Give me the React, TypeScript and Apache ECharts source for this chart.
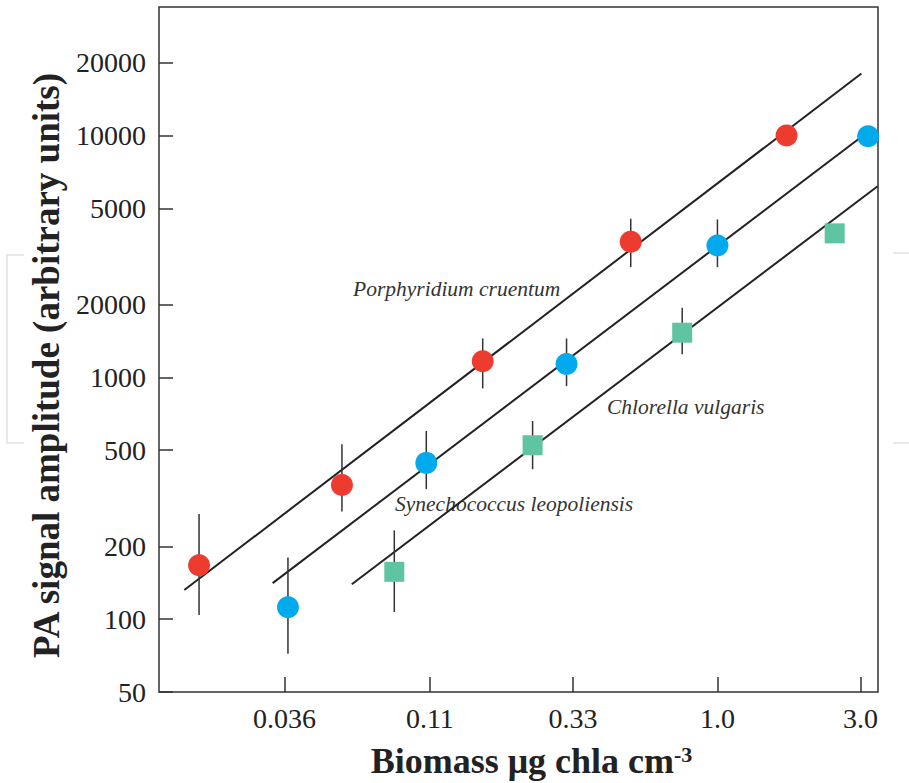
import React, { useEffect, useRef } from "react";
import * as echarts from "echarts";

// ---- Axis ticks (data units) ----
const xTickValues = [0.036, 0.11, 0.33, 1.0, 3.0];
const xTickLabels = ["0.036", "0.11", "0.33", "1.0", "3.0"];
const yTickValues = [50, 100, 200, 500, 1000, 2000, 5000, 10000, 20000];
const yTickLabels = ["50", "100", "200", "500", "1000", "20000", "5000", "10000", "20000"];

const xMin = 0.01375;
const xMax = 3.43;
const yMin = 50;
const yMax = 34000;

// ---- Porphyridium cruentum (red circles) ----
const porphyridiumX = [0.0187, 0.056, 0.165, 0.514, 1.7];
const porphyridiumY = [167, 359, 1165, 3640, 10000];
const porphyridiumLow = [104, 279, 900, 2856, null];
const porphyridiumHigh = [272, 529, 1449, 4528, null];
const porphyridiumFitX = [0.0167, 3.02];
const porphyridiumFitY = [132, 18040];

// ---- Chlorella vulgaris (blue circles) ----
const chlorellaX = [0.037, 0.107, 0.314, 1.0, 3.18];
const chlorellaY = [112, 443, 1135, 3510, 9930];
const chlorellaLow = [72, 345, 920, 2856, null];
const chlorellaHigh = [180, 600, 1449, 4498, null];
const chlorellaFitX = [0.0329, 3.27];
const chlorellaFitY = [141, 10640];

// ---- Synechococcus leopoliensis (green squares) ----
const synechococcusX = [0.0837, 0.242, 0.763, 2.46];
const synechococcusY = [157, 524, 1530, 3940];
const synechococcusLow = [107, 417, 1245, null];
const synechococcusHigh = [233, 660, 1941, null];
const synechococcusFitX = [0.0604, 3.42];
const synechococcusFitY = [139.5, 6170];

const RED = "#EE3B2F";
const BLUE = "#00AAEC";
const GREEN = "#5EC4A1";
const INK = "#222222";
const SERIF = "'Liberation Serif', 'Times New Roman', serif";

const L = (v: number) => Math.log10(v);

function pts(xs: number[], ys: number[]) {
  return xs.map((x, i) => [L(x), L(ys[i])]);
}
function bars(xs: number[], lo: (number | null)[], hi: (number | null)[]) {
  const out: number[][] = [];
  xs.forEach((x, i) => {
    const a = lo[i];
    const b = hi[i];
    if (a != null && b != null) out.push([L(x), L(a), L(b)]);
  });
  return out;
}
function lookup(values: number[], labels: string[], v: number) {
  for (let i = 0; i < values.length; i++) {
    if (Math.abs(L(values[i]) - v) < 1e-6) return labels[i];
  }
  return "";
}

export default function App() {
  const ref = useRef<HTMLDivElement>(null);

  useEffect(() => {
    if (!ref.current) return;
    const chart = echarts.init(ref.current, undefined, { renderer: "svg" });

    const errorSeries = (data: number[][]) => ({
      type: "custom",
      z: 3,
      silent: true,
      encode: { x: 0, y: [1, 2] },
      data,
      renderItem: (_p: any, api: any) => {
        const x = api.value(0);
        const p1 = api.coord([x, api.value(1)]);
        const p2 = api.coord([x, api.value(2)]);
        return {
          type: "line",
          shape: { x1: p1[0], y1: p1[1], x2: p2[0], y2: p2[1] },
          style: { stroke: "#333", lineWidth: 1.5 },
        };
      },
    });

    const fitSeries = (xs: number[], ys: number[]) => ({
      type: "line",
      z: 2,
      silent: true,
      symbol: "none",
      showSymbol: false,
      data: pts(xs, ys),
      lineStyle: { color: INK, width: 2 },
    });

    const scatterSeries = (name: string, xs: number[], ys: number[], color: string, symbol: string, size: number) => ({
      name,
      type: "scatter",
      z: 4,
      symbol,
      symbolSize: size,
      data: pts(xs, ys),
      itemStyle: { color, opacity: 1 },
    });

    const xLog = xTickValues.map(L);
    const yLog = yTickValues.map(L);

    chart.setOption({
      animation: false,
      backgroundColor: "#ffffff",
      grid: {
        left: 159,
        top: 7,
        right: 31,
        bottom: 91,
        show: true,
        borderColor: "#333",
        borderWidth: 1.5,
        containLabel: false,
        outerBoundsMode: "none",
      },
      xAxis: {
        type: "value",
        min: L(xMin),
        max: L(xMax),
        axisLine: { show: false, onZero: false },
        splitLine: { show: false },
        axisTick: {
          show: true,
          inside: true,
          length: 15,
          customValues: xLog,
          lineStyle: { color: "#333", width: 1.5 },
        },
        axisLabel: {
          customValues: xLog,
          formatter: (v: number) => lookup(xTickValues, xTickLabels, v),
          fontFamily: SERIF,
          fontSize: 28,
          color: INK,
          margin: 12,
        },
        name: "Biomass μg chla cm{sup|-3}",
        nameLocation: "middle",
        nameGap: 51,
        nameTextStyle: {
          fontFamily: SERIF,
          fontWeight: "bold",
          fontSize: 36,
          color: INK,
          padding: [0, 0, 0, 26],
          rich: {
            sup: {
              fontFamily: SERIF,
              fontWeight: "bold",
              fontSize: 22,
              color: INK,
              verticalAlign: "top",
              padding: [0, 0, 14, 0],
            },
          },
        },
      },
      yAxis: {
        type: "value",
        min: L(yMin),
        max: L(yMax),
        axisLine: { show: false, onZero: false },
        splitLine: { show: false },
        axisTick: {
          show: true,
          inside: true,
          length: 14,
          customValues: yLog,
          lineStyle: { color: "#333", width: 1.5 },
        },
        axisLabel: {
          customValues: yLog,
          formatter: (v: number) => lookup(yTickValues, yTickLabels, v),
          fontFamily: SERIF,
          fontSize: 28,
          color: INK,
          margin: 13,
        },
        name: "PA signal amplitude (arbitrary units)",
        nameLocation: "middle",
        nameGap: 94,
        nameTextStyle: {
          fontFamily: SERIF,
          fontWeight: "bold",
          fontSize: 37,
          color: INK,
          padding: [0, 32, 0, 0],
        },
      },
      graphic: [
        {
          type: "polyline",
          silent: true,
          z: -10,
          shape: { points: [[24, 255], [7, 255], [7, 443], [24, 443]] },
          style: { stroke: "#e8e8e8", lineWidth: 2, fill: null },
        },
        {
          type: "line",
          silent: true,
          z: -10,
          shape: { x1: 893, y1: 253, x2: 909, y2: 253 },
          style: { stroke: "#e8e8e8", lineWidth: 2 },
        },
        {
          type: "line",
          silent: true,
          z: -10,
          shape: { x1: 893, y1: 443, x2: 909, y2: 443 },
          style: { stroke: "#e8e8e8", lineWidth: 2 },
        },
        {
          type: "text",
          x: 353,
          y: 289,
          style: {
            text: "Porphyridium cruentum",
            font: `italic 21.5px ${SERIF}`,
            fill: "#333",
            textAlign: "left",
            textVerticalAlign: "middle",
          },
        },
        {
          type: "text",
          x: 607,
          y: 406.5,
          style: {
            text: "Chlorella vulgaris",
            font: `italic 21.5px ${SERIF}`,
            fill: "#333",
            textAlign: "left",
            textVerticalAlign: "middle",
          },
        },
        {
          type: "text",
          x: 395,
          y: 504,
          style: {
            text: "Synechococcus leopoliensis",
            font: `italic 21.5px ${SERIF}`,
            fill: "#333",
            textAlign: "left",
            textVerticalAlign: "middle",
          },
        },
      ],
      series: [
        fitSeries(porphyridiumFitX, porphyridiumFitY),
        fitSeries(chlorellaFitX, chlorellaFitY),
        fitSeries(synechococcusFitX, synechococcusFitY),
        errorSeries(bars(porphyridiumX, porphyridiumLow, porphyridiumHigh)),
        errorSeries(bars(chlorellaX, chlorellaLow, chlorellaHigh)),
        errorSeries(bars(synechococcusX, synechococcusLow, synechococcusHigh)),
        scatterSeries("Porphyridium cruentum", porphyridiumX, porphyridiumY, RED, "circle", 22),
        scatterSeries("Chlorella vulgaris", chlorellaX, chlorellaY, BLUE, "circle", 22),
        scatterSeries("Synechococcus leopoliensis", synechococcusX, synechococcusY, GREEN, "rect", 20),
      ],
    });

    return () => chart.dispose();
  }, []);

  return (
    <div
      ref={ref}
      style={{ position: "absolute", left: 0, top: 0, width: 909, height: 783, background: "#fff" }}
    />
  );
}
